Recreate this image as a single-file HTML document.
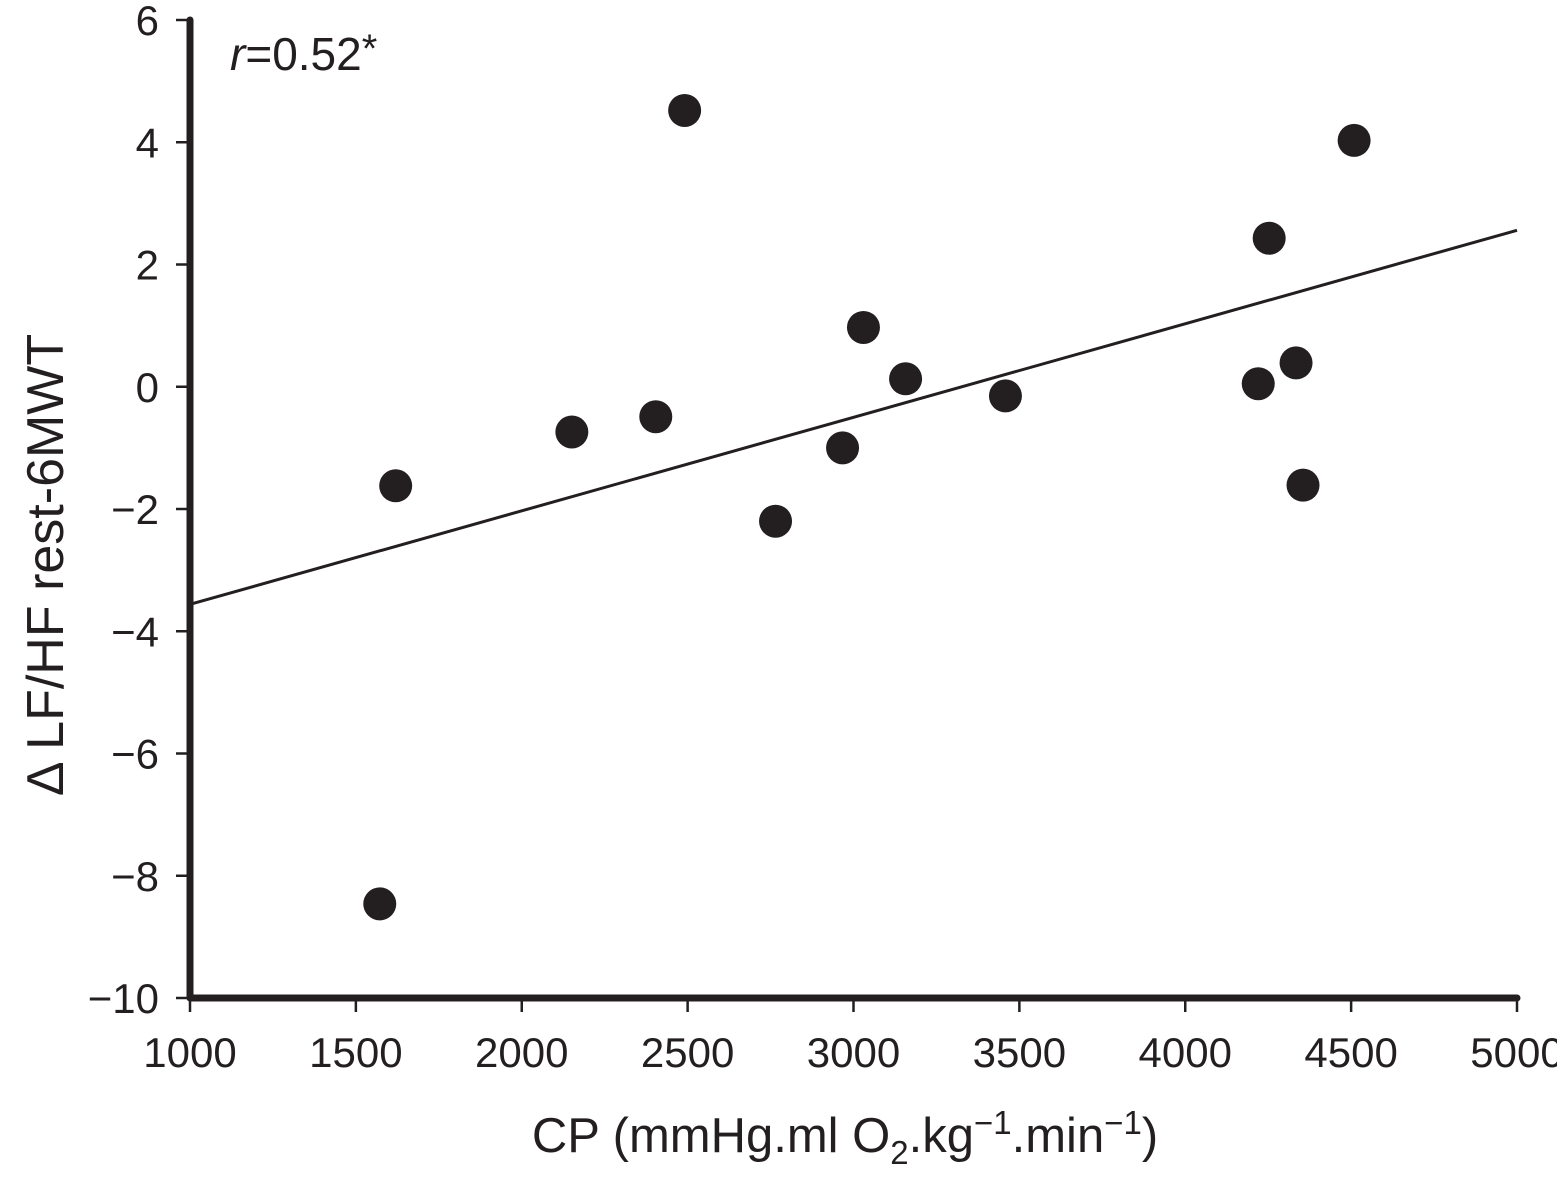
<!DOCTYPE html>
<html><head><meta charset="utf-8"><style>
html,body{margin:0;padding:0;background:#fff;}
svg{display:block;font-family:"Liberation Sans",Arial,sans-serif;}
</style></head><body>
<svg id="chart" width="1557" height="1180" viewBox="0 0 1557 1180"></svg>
<script>
const xVals=[2491,4509,4253,3030,3157,3458,4220,4334,4355,2967,2765,2404,2151,1620,1572];
const yVals=[4.52,4.03,2.43,0.97,0.13,-0.15,0.05,0.39,-1.61,-1.0,-2.2,-0.49,-0.74,-1.62,-8.46];
const xTicks=[1000,1500,2000,2500,3000,3500,4000,4500,5000];
const yTicks=[6,4,2,0,-2,-4,-6,-8,-10];
const yTickLabels=["6","4","2","0","\u22122","\u22124","\u22126","\u22128","\u221210"];
const fitX=[1000,5000];
const fitY=[-3.56,2.56];

const NS="http://www.w3.org/2000/svg";
const svg=document.getElementById('chart');
const X0=190,X1=1517,Y0=998,Y1=20;
const sx=v=>X0+(v-1000)/4000*(X1-X0);
const sy=v=>Y0+(v+10)/16*(Y1-Y0);
function mk(tag,attrs,parent){const e=document.createElementNS(NS,tag);for(const k in attrs)e.setAttribute(k,attrs[k]);(parent||svg).appendChild(e);return e;}

xTicks.forEach((t,i)=>{
  const g=mk('g',{});
  
  
  mk('line',{x1:sx(t),x2:sx(t),y1:Y0,y2:Y0+14,stroke:'#231f20','stroke-width':2.5},g);
  const tx=mk('text',{x:sx(t),y:1067,'text-anchor':'middle','font-size':42,fill:'#231f20'},g);
  tx.textContent=String(t);
});
yTicks.forEach((t,i)=>{
  const g=mk('g',{});
  
  
  mk('line',{x1:X0-14,x2:X0,y1:sy(t),y2:sy(t),stroke:'#231f20','stroke-width':2.5},g);
  const tx=mk('text',{x:159,y:sy(t)+15,'text-anchor':'end','font-size':42,fill:'#231f20'},g);
  tx.textContent=yTickLabels[i];
});
const ax=mk('path',{d:`M${X0} ${Y1} L${X0} ${Y0} L${X1} ${Y0}`,stroke:'#231f20','stroke-width':7,fill:'none','stroke-linejoin':'round','stroke-linecap':'round'});



const fl=mk('line',{x1:sx(fitX[0]),y1:sy(fitY[0]),x2:sx(fitX[1]),y2:sy(fitY[1]),stroke:'#231f20','stroke-width':3});



xVals.forEach((x,i)=>{
  const c=mk('circle',{cx:sx(x),cy:sy(yVals[i]),r:16.5,fill:'#231f20'});
  
  
});

const r=mk('text',{x:230,y:70,'font-size':46,fill:'#231f20'});


r.innerHTML='<tspan font-style="italic">r</tspan>=0.52<tspan font-size="40" dy="-8">*</tspan>';

const xt=mk('text',{x:845,y:1152,'text-anchor':'middle','font-size':49,fill:'#231f20'});


xt.innerHTML='CP (mmHg.ml O<tspan font-size="33" dy="12">2</tspan><tspan dy="-12">.kg</tspan><tspan font-size="33" dy="-18">\u22121</tspan><tspan dy="18">.min</tspan><tspan font-size="33" dy="-18">\u22121</tspan><tspan dy="18">)</tspan>';

const yt=mk('text',{x:0,y:0,'text-anchor':'middle','font-size':52,fill:'#231f20',transform:'translate(63,565) rotate(-90)'});


yt.textContent='\u0394 LF/HF rest-6MWT';
</script>
</body></html>
